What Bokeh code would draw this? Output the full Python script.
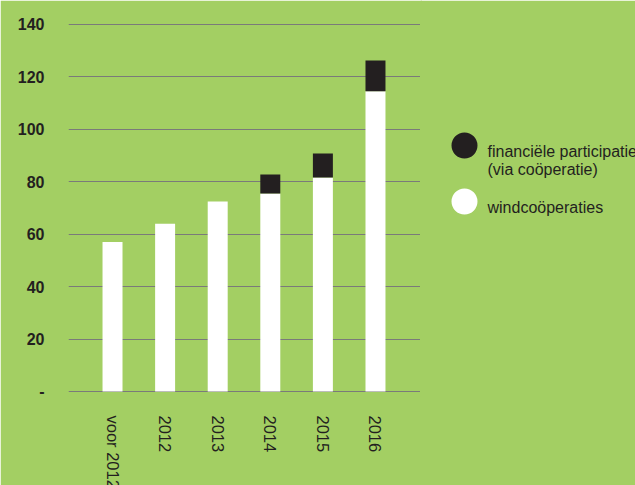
import math
from bokeh.plotting import figure
from bokeh.layouts import row
from bokeh.models import Range1d, FixedTicker, ColumnDataSource
from bokeh.core.properties import value
from bokeh.embed import file_html
from bokeh.resources import INLINE

categories = ["voor 2012", "2012", "2013", "2014", "2015", "2016"]
windcooperaties = [57, 64, 72.5, 75.5, 81.6, 114.5]
financieel = [0, 0, 0, 7.3, 9.2, 11.8]
y_ticks = [0, 20, 40, 60, 80, 100, 120, 140]
y_tick_labels = ["-", "20", "40", "60", "80", "100", "120", "140"]
legend_labels = ["financiële participatie\n(via coöperatie)", "windcoöperaties"]
legend_colors = ["#231f20", "white"]

GREEN = "#a3cf63"
DARK = "#231f20"
FONT = "Liberation Sans"

xpos = list(range(len(categories)))
totals = [a + b for a, b in zip(windcooperaties, financieel)]
src = ColumnDataSource(dict(x=xpos, w=windcooperaties, t=totals))

p = figure(output_backend="svg", toolbar_location=None,
           frame_width=354, frame_height=379,
           min_border_left=68, min_border_right=0, min_border_top=16, min_border_bottom=90,
           x_range=Range1d(-0.837, 5.894), y_range=Range1d(-1.53, 143.05))
p.background_fill_color = GREEN
p.border_fill_color = GREEN
p.outline_line_color = GREEN
p.outline_line_width = 3

p.vbar(x="x", bottom=0, top="w", width=0.38, source=src, fill_color="white", line_color=None)
p.vbar(x="x", bottom="w", top="t", width=0.38, source=src, fill_color=DARK, line_color=None)

p.xgrid.visible = False
p.ygrid.ticker = FixedTicker(ticks=y_ticks)
p.ygrid.grid_line_color = "#7a7a7a"
p.ygrid.grid_line_width = 1.2

p.yaxis.ticker = FixedTicker(ticks=y_ticks)
p.yaxis.major_label_overrides = {t: l for t, l in zip(y_ticks, y_tick_labels)}
p.yaxis.axis_line_color = None
p.yaxis.major_tick_line_color = None
p.yaxis.minor_tick_line_color = None
p.yaxis.major_label_standoff = 18
p.yaxis.major_label_text_font = FONT
p.yaxis.major_label_text_font_style = "bold"
p.yaxis.major_label_text_font_size = "16px"
p.yaxis.major_label_text_color = DARK

p.xaxis.ticker = FixedTicker(ticks=xpos)
p.xaxis.major_label_overrides = {i: c for i, c in zip(xpos, categories)}
p.xaxis.major_label_orientation = -math.pi / 2
p.xaxis.axis_line_color = None
p.xaxis.major_tick_line_color = None
p.xaxis.minor_tick_line_color = None
p.xaxis.major_label_standoff = 14
p.xaxis.major_label_text_font = FONT
p.xaxis.major_label_text_font_size = "16.5px"
p.xaxis.major_label_text_color = DARK

# legend panel (coordinates are page pixels); overlaps the chart by 2px to hide the seam
lg = figure(output_backend="svg", toolbar_location=None,
            frame_width=215, frame_height=379,
            min_border_left=0, min_border_right=0, min_border_top=16, min_border_bottom=90,
            x_range=Range1d(420, 635), y_range=Range1d(395, 16),
            margin=(0, 0, 0, -2))
lg.axis.visible = False
lg.grid.visible = False
lg.outline_line_color = GREEN
lg.outline_line_width = 3
lg.background_fill_color = GREEN
lg.border_fill_color = GREEN

marker_y = [145, 201]
lg.scatter(x=[464] * len(legend_labels), y=marker_y, size=26,
           fill_color=legend_colors, line_color=None)

line_text, line_y = [], []
for lab, my in zip(legend_labels, marker_y):
    for k, ln in enumerate(lab.split("\n")):
        line_text.append(ln)
        line_y.append(my + 6 + 18 * k)
lg.text(x=[487] * len(line_text), y=line_y, text=line_text, text_font=value(FONT),
        text_font_size="16px", text_color=DARK, text_baseline="alphabetic")

layout = row(p, lg)
open("out.html", "w").write(file_html(layout, INLINE))
